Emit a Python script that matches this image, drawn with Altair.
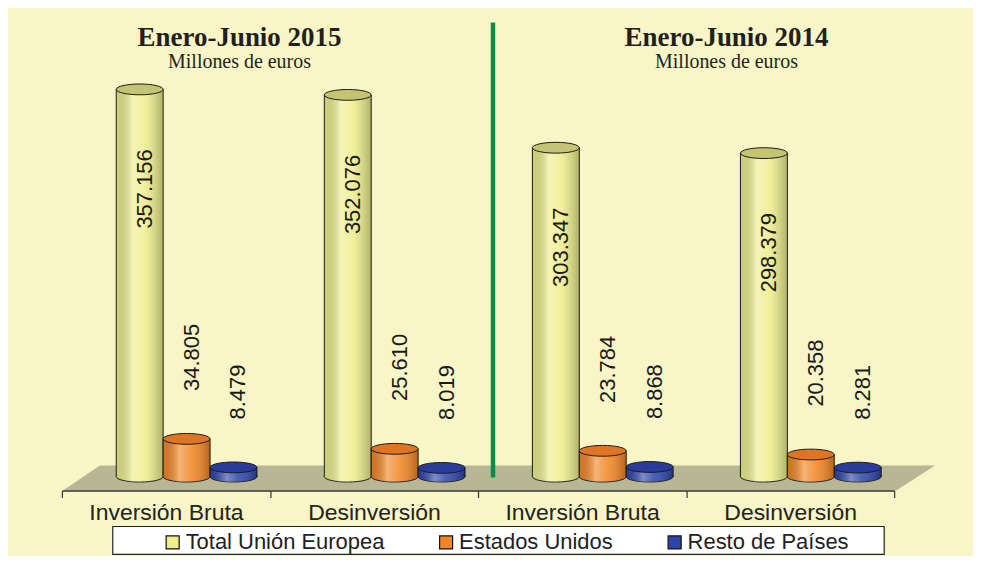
import altair as alt
import pandas as pd

# ---------------- data ----------------
periods = ["2015", "2014"]
period_titles = ["Enero-Junio 2015", "Enero-Junio 2014"]
subtitle = "Millones de euros"
concepts = ["Inversión Bruta", "Desinversión"]
series = ["Total Unión Europea", "Estados Unidos", "Resto de Países"]
eu_values = [357156, 352076, 303347, 298379]
us_values = [34805, 25610, 23784, 20358]
rest_values = [8479, 8019, 8868, 8281]

base_colors = ["#EEEE8C", "#F28624", "#2E44AA"]
top_colors = ["#C4C473", "#DE7424", "#293C9C"]

rows = []
cats = []
i = 0
for p in periods:
    for c in concepts:
        key = f"{p}|{c}"
        cats.append(key)
        for s, vals in zip(series, [eu_values, us_values, rest_values]):
            v = vals[i]
            rows.append({"cat": key, "serie": s, "valor": v, "cero": 0,
                         "etiqueta": f"{v:,}".replace(",", ".")})
        i += 1
df = pd.DataFrame(rows)
one = pd.DataFrame({"k": [0]})

# ---------------- styling ----------------
BG = "#F8F6C6"
INK = "#1c1c1c"
SANS = "Liberation Sans, Arial, sans-serif"
SERIF = "Liberation Serif, Times New Roman, serif"

FLOOR = "M -1 0.0286 L 0.911 0.0286 L 1 -0.0286 L -0.915 -0.0286 Z"
TOP = "M -1 0 A 1 0.23 0 0 1 1 0 A 1 0.23 0 0 1 -1 0 Z"
BOTTOM = "M -1 -0.06 L -1 0 A 1 0.23 0 0 0 1 0 L 1 -0.06"
BAR_W = 47

shade = {
    "gradient": "linear", "x1": 0, "x2": 1, "y1": 0, "y2": 0,
    "stops": [
        {"offset": 0, "color": "rgba(0,0,0,0.13)"},
        {"offset": 0.35, "color": "rgba(255,255,255,0.38)"},
        {"offset": 0.6, "color": "rgba(255,255,255,0.14)"},
        {"offset": 1, "color": "rgba(0,0,0,0.26)"},
    ],
}

x_enc = alt.X(
    "cat:N",
    scale=alt.Scale(domain=cats, paddingInner=0, paddingOuter=0),
    axis=alt.Axis(
        title=None, labelExpr="split(datum.value, '|')[1]", labelAngle=0,
        tickBand="extent", offset=14, tickSize=7, tickColor="#333",
        domainColor="#333", domainWidth=1.5, tickWidth=1.2,
        labelFont=SANS, labelFontSize=23, labelColor="#222",
        labelPadding=4, zindex=1, grid=False,
    ),
)
xo_enc = alt.XOffset(
    "serie:N",
    scale=alt.Scale(domain=series, paddingInner=0, paddingOuter=0.718, align=0.807),
)
y_scale = alt.Scale(domain=[0, 422500])
y_enc = alt.Y("valor:Q", scale=y_scale, axis=None)
y0_enc = alt.Y("cero:Q", scale=y_scale, axis=None)

base = alt.Chart(df)

floor = alt.Chart(one).mark_point(
    shape=FLOOR, filled=True, fill="#B7B795", opacity=1, strokeWidth=0
).encode(x=alt.value(438), y=alt.value(460.5), size=alt.value(763876))

separator = alt.Chart(one).mark_rule(color="#0C8C48", strokeWidth=4.5).encode(
    x=alt.value(432), y=alt.value(4), y2=alt.value(460)
)

bodies = base.mark_bar(stroke=INK, strokeWidth=1).encode(
    x=x_enc, xOffset=xo_enc, y=y_enc,
    color=alt.Color(
        "serie:N",
        scale=alt.Scale(domain=series, range=base_colors),
        legend=alt.Legend(
            title=None, orient="none", legendX=100, legendY=514,
            direction="horizontal", columns=3, symbolType="square",
            symbolSize=170, symbolStrokeColor="#111", symbolStrokeWidth=1.2,
            symbolOpacity=1, labelFont=SANS, labelFontSize=22,
            labelColor="#222", labelOffset=2, columnPadding=50,
            labelLimit=400, zindex=1,
        ),
    ),
)
body_shade = base.mark_bar(fill=shade, strokeWidth=0).encode(
    x=x_enc, xOffset=xo_enc, y=y_enc
)

bottoms = base.mark_point(
    shape=BOTTOM, filled=True, opacity=1, stroke=INK, strokeWidth=1
).encode(
    x=x_enc, xOffset=xo_enc, y=y0_enc, size=alt.value(BAR_W * BAR_W),
    color=alt.Color("serie:N", scale=alt.Scale(domain=series, range=base_colors), legend=None),
)
bottom_shade = base.mark_point(
    shape=BOTTOM, filled=True, opacity=1, fill=shade, strokeWidth=0
).encode(x=x_enc, xOffset=xo_enc, y=y0_enc, size=alt.value(BAR_W * BAR_W))

tops = base.mark_point(
    shape=TOP, filled=True, opacity=1, stroke=INK, strokeWidth=1
).encode(
    x=x_enc, xOffset=xo_enc, y=y_enc, size=alt.value(BAR_W * BAR_W),
    fill=alt.Fill("serie:N", scale=alt.Scale(domain=series, range=top_colors), legend=None),
)

eu_labels = base.transform_filter(alt.datum.serie == series[0]).mark_text(
    angle=270, align="right", baseline="middle", dx=-60, dy=5,
    font=SANS, fontSize=22, color="#1a1a1a",
).encode(x=x_enc, xOffset=xo_enc, y=y_enc, text="etiqueta:N")

other_labels = base.transform_filter(alt.datum.serie != series[0]).mark_text(
    angle=270, align="left", baseline="middle", dx=48, dy=5,
    font=SANS, fontSize=22, color="#1a1a1a",
).encode(x=x_enc, xOffset=xo_enc, y=y_enc, text="etiqueta:N")

title_layers = []
for txt, xpos in zip(period_titles, [178, 666]):
    title_layers.append(
        alt.Chart(one).mark_text(
            text=txt, font=SERIF, fontSize=27, fontWeight="bold",
            color="#231F20", align="center", baseline="alphabetic",
        ).encode(x=alt.value(xpos), y=alt.value(28))
    )
    title_layers.append(
        alt.Chart(one).mark_text(
            text=subtitle, font=SERIF, fontSize=20, color="#231F20",
            align="center", baseline="alphabetic",
        ).encode(x=alt.value(xpos), y=alt.value(50))
    )

legend_box = alt.Chart(one).mark_rect(fill="white", stroke="#222", strokeWidth=1.2).encode(
    x=alt.value(51), x2=alt.value(824), y=alt.value(509), y2=alt.value(537)
)

chart = alt.layer(
    floor, separator, legend_box,
    bodies, body_shade, bottoms, bottom_shade, tops,
    eu_labels, other_labels, *title_layers,
).properties(
    width=834, height=459,
    padding={"left": 54, "top": 10, "right": 79, "bottom": 79},
    autosize=alt.AutoSizeParams(type="none"),
    background=BG,
).configure_view(stroke=None)

chart.save("out.html", embed_options={"renderer": "svg", "actions": False})
